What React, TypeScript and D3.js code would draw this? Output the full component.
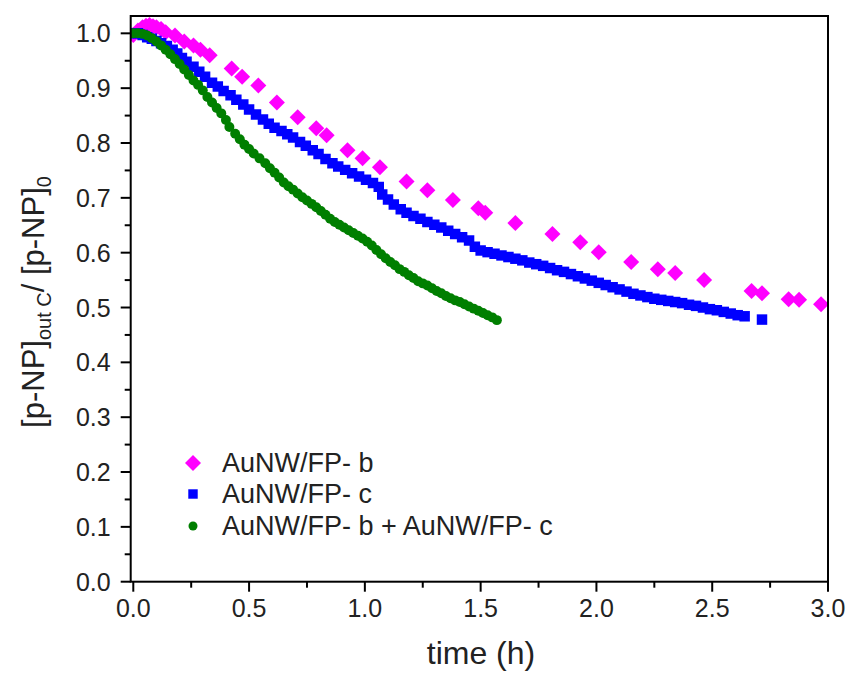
import React from "react";
import * as d3 from "d3";

const seriesNames = ["AuNW/FP- b", "AuNW/FP- c", "AuNW/FP- b + AuNW/FP- c"];
const seriesColors = ["#FF00FF", "#0000FF", "#007F00"];

const bTime = [0.00,0.02,0.04,0.055,0.07,0.085,0.10,0.12,0.14,0.18,0.22,0.26,0.29,0.33,0.425,0.47,0.54,0.62,0.71,0.79,0.835,0.925,0.99,1.065,1.18,1.27,1.38,1.49,1.52,1.65,1.81,1.93,2.01,2.15,2.265,2.34,2.465,2.67,2.715,2.83,2.875,2.97];
const bValue = [0.997,1.005,1.011,1.014,1.015,1.013,1.011,1.008,1.002,0.996,0.985,0.978,0.970,0.960,0.936,0.921,0.905,0.874,0.847,0.827,0.814,0.787,0.772,0.756,0.730,0.714,0.696,0.681,0.673,0.654,0.634,0.619,0.601,0.583,0.570,0.563,0.550,0.530,0.526,0.515,0.514,0.506];

const cTime = [0.00,0.02,0.04,0.06,0.08,0.10,0.12,0.145,0.17,0.19,0.21,0.23,0.26,0.285,0.31,0.34,0.365,0.39,0.42,0.445,0.475,0.50,0.53,0.56,0.585,0.61,0.64,0.665,0.69,0.72,0.745,0.775,0.80,0.83,0.86,0.885,0.915,0.945,0.975,1.005,1.035,1.06,1.075,1.10,1.125,1.155,1.18,1.21,1.24,1.27,1.30,1.33,1.36,1.39,1.42,1.45,1.475,1.50,1.53,1.56,1.59,1.62,1.65,1.68,1.71,1.74,1.77,1.80,1.83,1.86,1.89,1.92,1.95,1.98,2.01,2.04,2.07,2.10,2.13,2.16,2.19,2.22,2.25,2.28,2.31,2.34,2.37,2.40,2.43,2.46,2.49,2.52,2.55,2.58,2.61,2.64,2.715];
const cValue = [1.000,1.000,0.997,0.993,0.990,0.986,0.982,0.977,0.970,0.963,0.955,0.948,0.939,0.930,0.921,0.910,0.903,0.895,0.887,0.879,0.870,0.861,0.852,0.843,0.835,0.828,0.822,0.816,0.810,0.802,0.795,0.787,0.780,0.771,0.763,0.757,0.751,0.745,0.739,0.733,0.727,0.720,0.706,0.697,0.688,0.679,0.673,0.667,0.662,0.656,0.651,0.646,0.640,0.634,0.628,0.622,0.611,0.604,0.601,0.598,0.595,0.592,0.589,0.586,0.582,0.579,0.576,0.572,0.568,0.565,0.561,0.557,0.553,0.549,0.545,0.541,0.537,0.533,0.529,0.525,0.522,0.519,0.516,0.514,0.512,0.510,0.508,0.505,0.503,0.500,0.497,0.495,0.492,0.489,0.486,0.484,0.478];

const bcTime = [0.00,0.02,0.04,0.06,0.08,0.10,0.12,0.14,0.16,0.18,0.20,0.22,0.24,0.26,0.28,0.30,0.32,0.34,0.36,0.38,0.40,0.415,0.44,0.46,0.48,0.50,0.52,0.545,0.57,0.59,0.61,0.63,0.65,0.67,0.69,0.71,0.73,0.75,0.77,0.79,0.81,0.83,0.85,0.87,0.89,0.91,0.93,0.95,0.97,0.99,1.01,1.03,1.05,1.07,1.09,1.11,1.13,1.15,1.17,1.19,1.21,1.23,1.25,1.27,1.29,1.31,1.33,1.35,1.37,1.39,1.41,1.43,1.45,1.47,1.49,1.51,1.53,1.55,1.57];
const bcValue = [1.000,1.000,0.999,0.996,0.991,0.985,0.978,0.970,0.962,0.953,0.944,0.934,0.924,0.914,0.906,0.896,0.884,0.874,0.864,0.854,0.842,0.829,0.817,0.807,0.797,0.789,0.781,0.772,0.763,0.754,0.746,0.737,0.728,0.721,0.715,0.708,0.701,0.695,0.689,0.683,0.676,0.669,0.662,0.656,0.651,0.646,0.641,0.636,0.631,0.626,0.620,0.613,0.605,0.597,0.590,0.583,0.577,0.570,0.565,0.559,0.554,0.548,0.544,0.540,0.535,0.530,0.526,0.521,0.517,0.513,0.510,0.506,0.502,0.498,0.494,0.490,0.486,0.482,0.477];

const xMajorTicks = [0, 0.5, 1.0, 1.5, 2.0, 2.5, 3.0];
const xMinorTicks = [0.25, 0.75, 1.25, 1.75, 2.25, 2.75];
const yMajorTicks = [0, 0.1, 0.2, 0.3, 0.4, 0.5, 0.6, 0.7, 0.8, 0.9, 1.0];
const yMinorTicks = [0.05, 0.15, 0.25, 0.35, 0.45, 0.55, 0.65, 0.75, 0.85, 0.95];

const W = 853;
const H = 684;
const L = 130.7, R = 828, T = 16, B = 581.7;
const FONT = "'Liberation Sans', Arial, sans-serif";

export default function App() {
  const x = d3.scaleLinear().domain([-0.0112, 3.0]).range([L, R]);
  const y = d3.scaleLinear().domain([0, 1.0316]).range([B, T]);

  const diamond = d3.symbol().type(d3.symbolSquare).size(128)()!;
  const square = d3.symbol().type(d3.symbolSquare).size(110)()!;
  const circle = d3.symbol().type(d3.symbolCircle).size(78)()!;

  const series = [
    { t: bTime, v: bValue, path: diamond, rot: 45 },
    { t: cTime, v: cValue, path: square, rot: 0 },
    { t: bcTime, v: bcValue, path: circle, rot: 0 },
  ];

  const legendY = [463, 494, 526];
  const legendScale = [1, 0.9, 0.9];

  return (
    <svg width={W} height={H} style={{ position: "absolute", left: 0, top: 0, background: "#fff" }} fontFamily={FONT}>
      <rect x={0} y={0} width={W} height={H} fill="#fff" />
      <defs>
        <clipPath id="plotclip">
          <rect x={L} y={T - 6} width={R - L + 6} height={B - T + 6} />
        </clipPath>
      </defs>
      <g clipPath="url(#plotclip)">
        {series.map((s, si) => (
          <g key={si} fill={seriesColors[si]}>
            {s.t.map((t, i) => (
              <path key={i} d={s.path} transform={`translate(${x(t)},${y(s.v[i])}) rotate(${s.rot})`} />
            ))}
          </g>
        ))}
      </g>
      {/* frame */}
      <rect x={L} y={T} width={R - L} height={B - T} fill="none" stroke="#000" strokeWidth={2} />
      {/* x ticks */}
      {xMajorTicks.map((t) => (
        <g key={"xm" + t}>
          <line x1={x(t)} x2={x(t)} y1={B} y2={B + 10} stroke="#000" strokeWidth={2} />
          <text x={x(t)} y={B + 35} textAnchor="middle" fontSize={25} fill="#222">{t.toFixed(1)}</text>
        </g>
      ))}
      {xMinorTicks.map((t) => (
        <line key={"xn" + t} x1={x(t)} x2={x(t)} y1={B} y2={B + 6} stroke="#000" strokeWidth={2} />
      ))}
      {yMajorTicks.map((t) => (
        <g key={"ym" + t}>
          <line x1={L - 10} x2={L} y1={y(t)} y2={y(t)} stroke="#000" strokeWidth={2} />
          <text x={L - 20} y={y(t) + 9} textAnchor="end" fontSize={25} fill="#222">{t.toFixed(1)}</text>
        </g>
      ))}
      {yMinorTicks.map((t) => (
        <line key={"yn" + t} x1={L - 6} x2={L} y1={y(t)} y2={y(t)} stroke="#000" strokeWidth={2} />
      ))}
      {/* axis titles */}
      <text x={481} y={664} textAnchor="middle" fontSize={32} fill="#222">time (h)</text>
      <text transform="translate(44,302) rotate(-90)" textAnchor="middle" fontSize={31} fill="#222">
        <tspan>[p-NP]</tspan>
        <tspan fontSize={20} dy={7}>out C</tspan>
        <tspan dy={-7}>/ [p-NP]</tspan>
        <tspan fontSize={20} dy={7}>0</tspan>
      </text>
      {/* legend */}
      {series.map((s, si) => (
        <g key={"lg" + si}>
          <path d={s.path} fill={seriesColors[si]} transform={`translate(193,${legendY[si]}) rotate(${s.rot}) scale(${legendScale[si]})`} />
          <text x={222} y={legendY[si] + 9} fontSize={27} fill="#222">{seriesNames[si]}</text>
        </g>
      ))}
    </svg>
  );
}
